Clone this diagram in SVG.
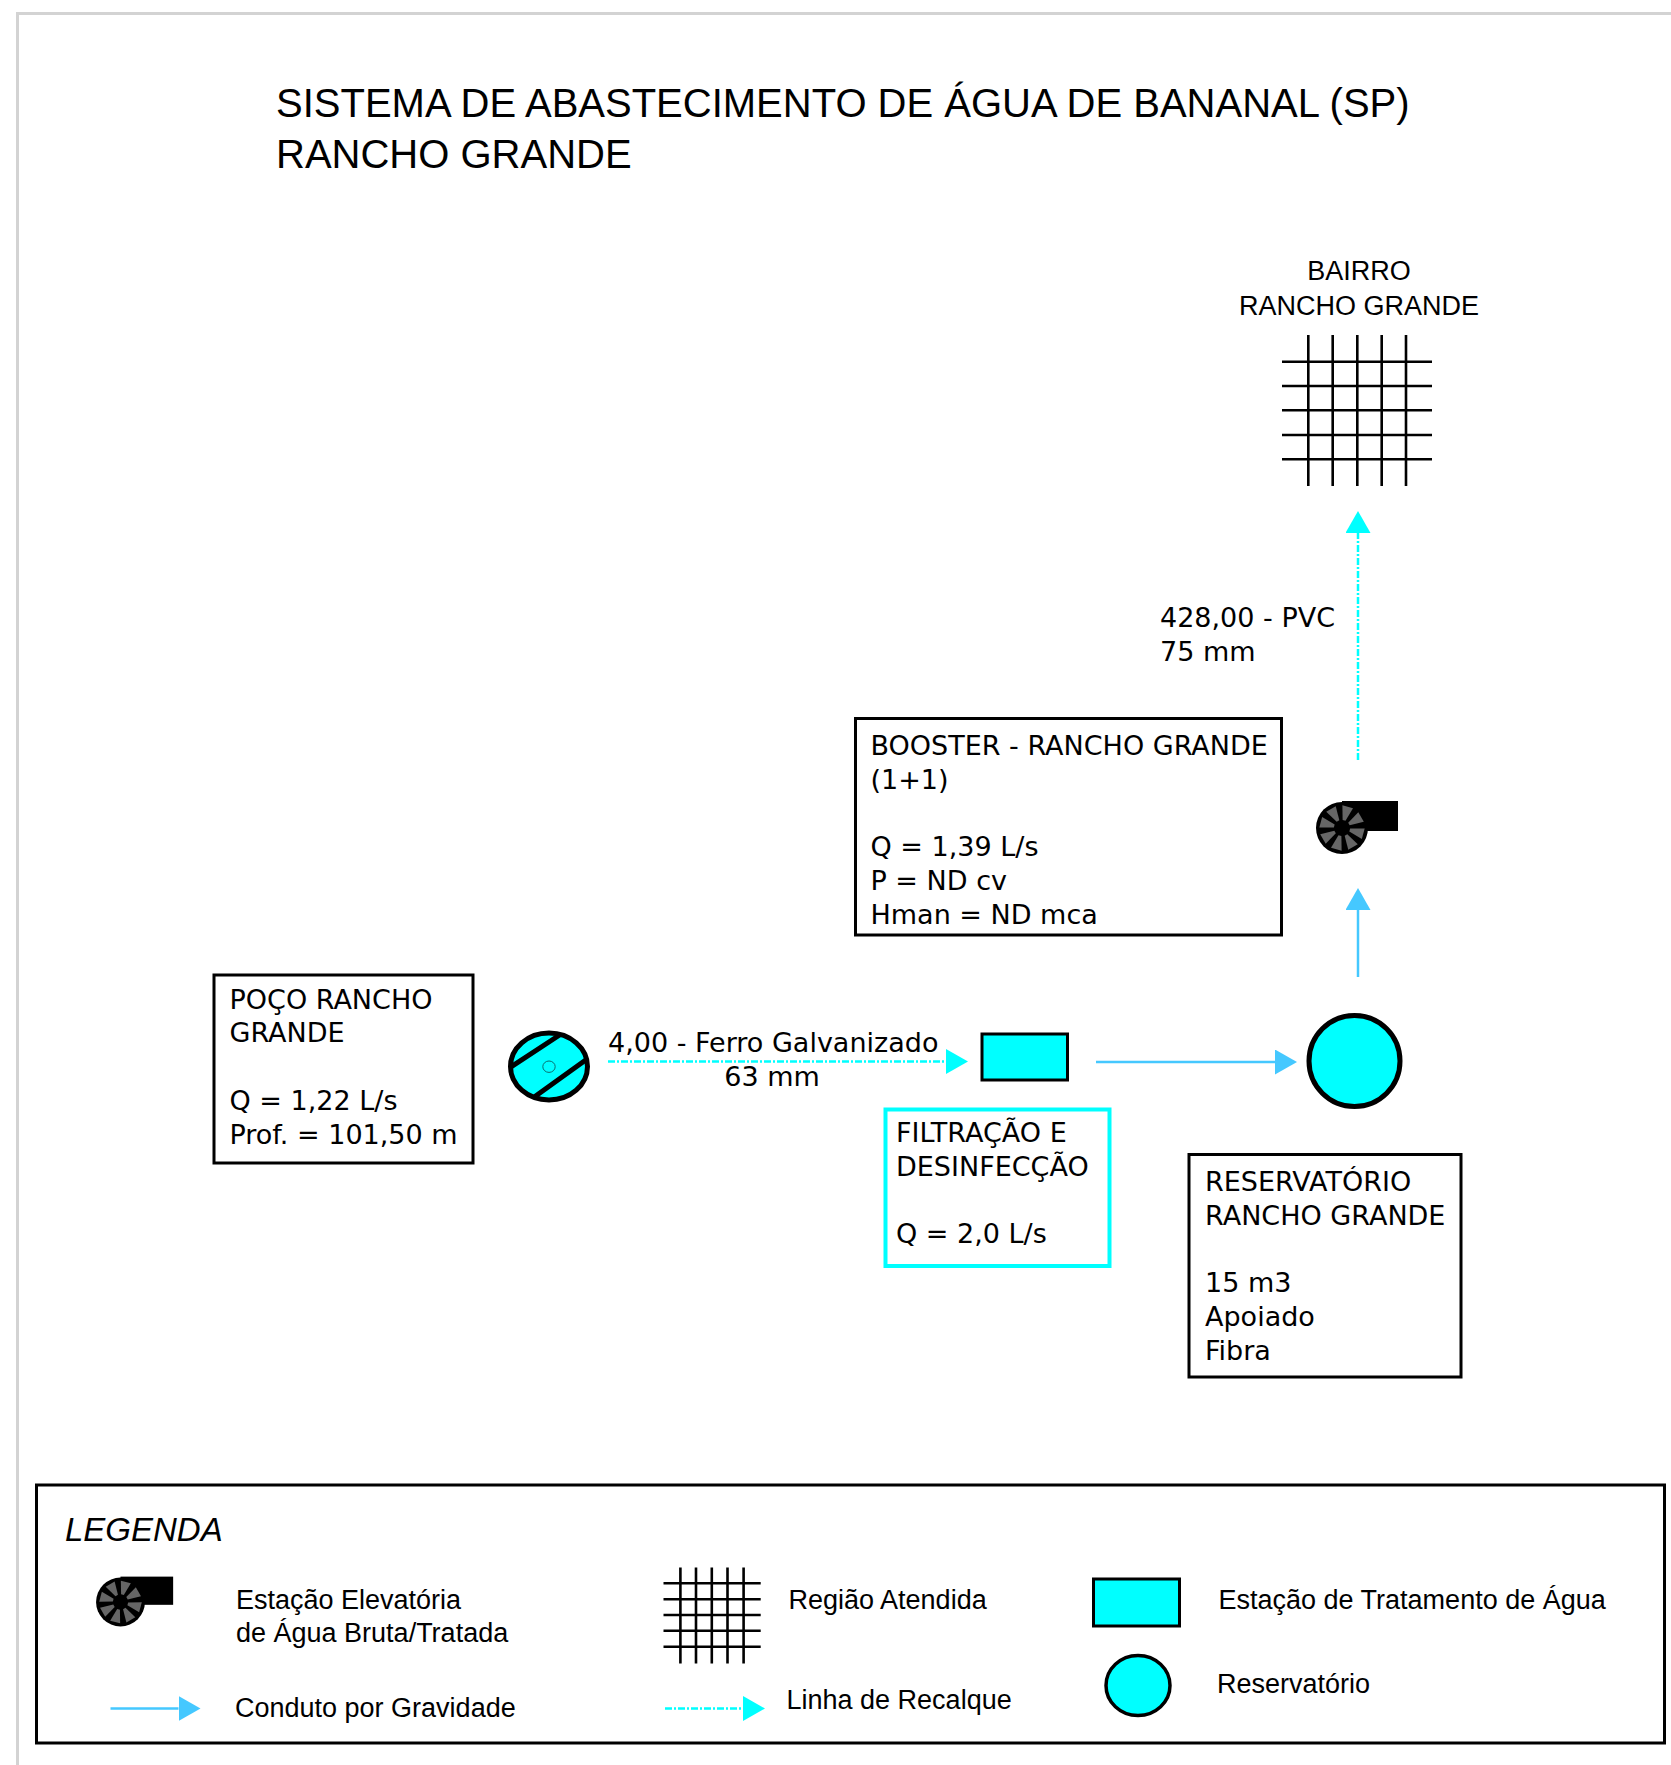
<svg xmlns="http://www.w3.org/2000/svg" width="1671" height="1765" viewBox="0 0 1671 1765">
<style>
.t{font-family:"Liberation Sans",Arial,sans-serif;fill:#000}
.title{font-size:40px}
.leg{font-size:27px}
.d{font-family:"DejaVu Sans",sans-serif;font-size:27px;fill:#000}
.box{fill:#fff;stroke:#000;stroke-width:3}
.cy{fill:#00ffff;stroke:#000}
.g{stroke:#000;stroke-width:2.6;fill:none}
.grav{stroke:#45c8ff;stroke-width:2.5;fill:none}
.rec{stroke:#00ffff;stroke-width:2.5;fill:none;stroke-dasharray:7 2 2 2}
</style>
<defs>
<marker id="ag" markerUnits="userSpaceOnUse" markerWidth="22" markerHeight="25" refX="0" refY="12.5" orient="auto"><path d="M0 0L22 12.5L0 25Z" fill="#45c8ff"/></marker>
<marker id="ar" markerUnits="userSpaceOnUse" markerWidth="22" markerHeight="25" refX="0" refY="12.5" orient="auto"><path d="M0 0L22 12.5L0 25Z" fill="#00ffff"/></marker>
<path id="bl" d="M-1.5 -8L1.5 -8L5.5 -22L-5.5 -22Z" fill="#666"/>
<g id="pump">
<circle cx="0" cy="0" r="26" fill="#000"/>
<rect x="0" y="-27" width="56" height="30" fill="#000"/>
<use href="#bl" transform="rotate(15)"/><use href="#bl" transform="rotate(60)"/><use href="#bl" transform="rotate(105)"/><use href="#bl" transform="rotate(150)"/><use href="#bl" transform="rotate(195)"/><use href="#bl" transform="rotate(240)"/><use href="#bl" transform="rotate(285)"/><use href="#bl" transform="rotate(330)"/>
</g>
</defs>
<rect width="1671" height="1765" fill="#fff"/>
<path d="M17.500 1765V13.500H1671" fill="none" stroke="#d3d3d3" stroke-width="3"/>
<g id="title"><text class="t title" x="276" y="117">SISTEMA DE ABASTECIMENTO DE ÁGUA DE BANANAL (SP)</text><text class="t title" x="276" y="168">RANCHO GRANDE</text></g>
<g id="connectors">
<path class="rec" d="M608 1061.500H946" marker-end="url(#ar)"/>
<path class="grav" d="M1096 1062H1275" marker-end="url(#ag)"/>
<path class="grav" d="M1358 977V910" marker-end="url(#ag)"/>
<path class="rec" d="M1358 760V533" marker-end="url(#ar)"/>
</g>
<g id="bairro"><text class="t leg" text-anchor="middle" x="1359" y="280">BAIRRO</text><text class="t leg" text-anchor="middle" x="1359" y="315">RANCHO GRANDE</text>
<path class="g" d="M1308.300 335V486M1332.700 335V486M1357.300 335V486M1381.700 335V486M1406 335V486M1282 361.700H1432M1282 386H1432M1282 410.300H1432M1282 435H1432M1282 459.300H1432"/></g>
<g id="label-pvc"><text class="d" x="1160" y="627">428,00 - PVC</text><text class="d" x="1160" y="661">75 mm</text></g>
<g id="booster-box"><rect class="box" x="855.500" y="718.500" width="426" height="216.500"/>
<text class="d" x="870.500" y="755">BOOSTER - RANCHO GRANDE</text><text class="d" x="870.500" y="789">(1+1)</text><text class="d" x="870.500" y="856">Q = 1,39 L/s</text><text class="d" x="870.500" y="890">P = ND cv</text><text class="d" x="870.500" y="924">Hman = ND mca</text></g>
<g id="booster"><use href="#pump" x="1342" y="828"/></g>
<g id="poco-box"><rect class="box" x="214" y="975" width="259" height="188"/>
<text class="d" x="229.500" y="1009">POÇO RANCHO</text><text class="d" x="229.500" y="1042">GRANDE</text><text class="d" x="229.500" y="1110">Q = 1,22 L/s</text><text class="d" x="229.500" y="1144">Prof. = 101,50 m</text></g>
<g id="poco"><ellipse class="cy" cx="549" cy="1066.500" rx="38.500" ry="33.500" stroke-width="5"/>
<path d="M511.400 1066.700L559.600 1035M534.600 1096.700L585.700 1060" stroke="#000" stroke-width="5" fill="none"/>
<ellipse cx="549" cy="1066.700" rx="6.200" ry="5.700" fill="none" stroke="#0a6e6e" stroke-width="1"/></g>
<g id="label-ferro"><text class="d" x="608" y="1052">4,00 - Ferro Galvanizado</text><text class="d" text-anchor="middle" x="772" y="1086">63 mm</text></g>
<g id="eta"><rect class="cy" stroke-width="3" x="982" y="1034" width="85.500" height="46"/></g>
<g id="filtracao-box"><rect x="885.500" y="1109.500" width="224" height="156.500" fill="#fff" stroke="#00ffff" stroke-width="4"/>
<text class="d" x="896" y="1142">FILTRAÇÃO E</text><text class="d" x="896" y="1176">DESINFECÇÃO</text><text class="d" x="896" y="1243">Q = 2,0 L/s</text></g>
<g id="reservatorio"><circle class="cy" cx="1354.500" cy="1061" r="45.500" stroke-width="5"/></g>
<g id="reservatorio-box"><rect class="box" x="1189" y="1154.500" width="272" height="222.500"/>
<text class="d" x="1205" y="1191">RESERVATÓRIO</text><text class="d" x="1205" y="1225">RANCHO GRANDE</text><text class="d" x="1205" y="1292">15 m3</text><text class="d" x="1205" y="1326">Apoiado</text><text class="d" x="1205" y="1360">Fibra</text></g>
<g id="legenda">
<rect x="36.500" y="1485" width="1628" height="258" fill="none" stroke="#000" stroke-width="3"/>
<text class="t" font-style="italic" font-size="33" x="65" y="1541">LEGENDA</text>
<use href="#pump" transform="translate(120.500 1602) scale(.94)"/>
<text class="t leg" x="236" y="1609">Estação Elevatória</text><text class="t leg" x="236" y="1642">de Água Bruta/Tratada</text>
<path class="grav" d="M110.500 1708.500H178.500" marker-end="url(#ag)"/>
<text class="t leg" x="235" y="1717">Conduto por Gravidade</text>
<path class="g" d="M680.400 1567.500V1663.500M696 1567.500V1663.500M711.800 1567.500V1663.500M727.500 1567.500V1663.500M743.600 1567.500V1663.500M663.500 1583.300H760.700M663.500 1599.300H760.700M663.500 1615H760.700M663.500 1630.700H760.700M663.500 1646.700H760.700"/>
<text class="t leg" x="788.500" y="1609">Região Atendida</text>
<path class="rec" d="M665 1708.500H743" marker-end="url(#ar)"/>
<text class="t leg" x="786.500" y="1709">Linha de Recalque</text>
<rect class="cy" stroke-width="3" x="1093.500" y="1579" width="86" height="47"/>
<text class="t leg" x="1218.500" y="1609">Estação de Tratamento de Água</text>
<ellipse class="cy" stroke-width="3.500" cx="1138" cy="1685.500" rx="32" ry="30"/>
<text class="t leg" x="1217" y="1693">Reservatório</text>
</g>
</svg>
